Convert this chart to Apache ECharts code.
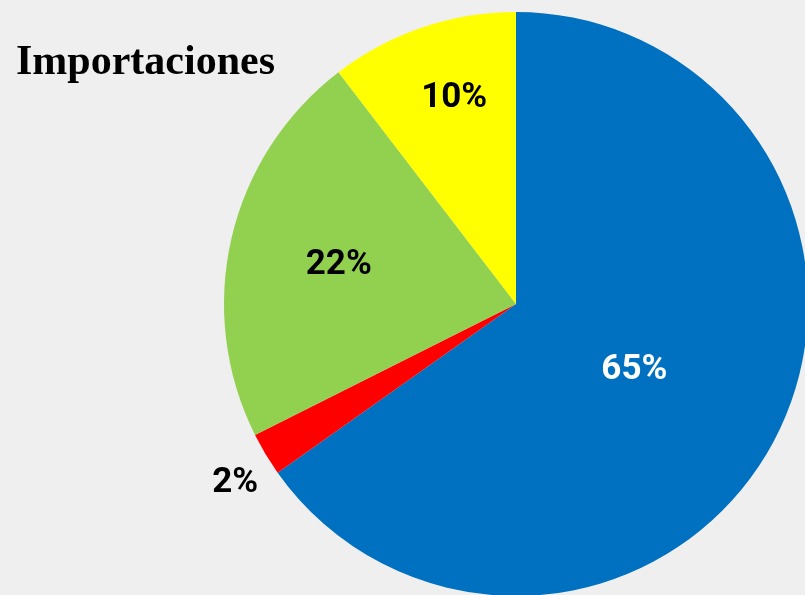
<!DOCTYPE html>
<html>
<head>
<meta charset="utf-8">
<script src="https://cdn.jsdelivr.net/npm/echarts@6/dist/echarts.min.js"></script>
<style>
  html, body { margin: 0; padding: 0; background: #efefef; }
  #main { width: 805px; height: 595px; }
</style>
</head>
<body>
<div id="main"></div>
<script>
// datos
const names = ['Azul', 'Rojo', 'Verde', 'Amarillo'];
const values = [65.2, 2.4, 22.0, 10.4];
const colors = ['#0070C0', '#FF0000', '#92D050', '#FFFF00'];
const labelColors = ['#ffffff', '#000000', '#000000', '#000000'];
// ajuste de la posicion de cada etiqueta
const labelShift = [[-14, -2], [-153, 103], [-32, -5], [-14, -65]];

const myChart = echarts.init(document.querySelector('#main'));

const option = {
  backgroundColor: '#efefef',
  animation: false,
  title: {
    text: 'Importaciones',
    left: 11,
    top: 37,
    textStyle: {
      fontFamily: 'Liberation Serif',
      fontWeight: 'bold',
      fontSize: 42,
      color: '#000'
    }
  },
  series: [
    {
      type: 'pie',
      center: [516, 304],
      radius: 292,
      startAngle: 90,
      clockwise: true,
      avoidLabelOverlap: false,
      label: {
        show: true,
        position: 'inside',
        fontFamily: 'Roboto',
        fontWeight: 'bold',
        fontSize: 35,
        formatter: (p) => Math.round(p.value) + '%'
      },
      labelLine: { show: false },
      labelLayout: (params) => ({
        dx: labelShift[params.dataIndex][0],
        dy: labelShift[params.dataIndex][1]
      }),
      data: names.map((n, i) => ({
        name: n,
        value: values[i],
        itemStyle: { color: colors[i] },
        label: { color: labelColors[i] }
      }))
    }
  ]
};

option && myChart.setOption(option);
</script>
</body>
</html>
